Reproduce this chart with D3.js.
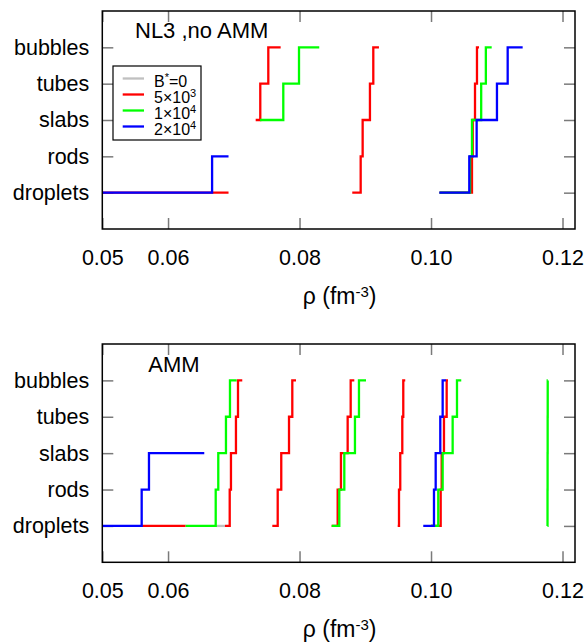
<!DOCTYPE html>
<html><head><meta charset="utf-8">
<script src="https://cdnjs.cloudflare.com/ajax/libs/d3/7.8.5/d3.min.js"></script>
<style>body{margin:0;background:#fff}svg{display:block}text{font-family:"Liberation Sans",Arial,sans-serif}</style>
</head><body>
<script>
// ---------- data ----------
const phases = ["droplets", "rods", "slabs", "tubes", "bubbles"];
const seriesNames = ["B*=0", "5×10^3", "1×10^4", "2×10^4"];
const xTicks = [0.05, 0.06, 0.08, 0.10, 0.12];
const xTickLabels = ["0.05", "0.06", "0.08", "0.10", "0.12"];
const panelLabels = ["NL3 ,no AMM", "AMM"];

// each segment: [rho, phase index 1..5] step points (step-after)
const topGray = [];
const topRed = [
  [[0.05, 1], [0.0692, 1]],
  [[0.07333, 3], [0.07403, 4], [0.07525, 5], [0.07713, 5]],
  [[0.08802, 1], [0.0893, 2], [0.0896, 3], [0.09071, 4], [0.09122, 5], [0.09208, 5]],
  [[0.1013, 1], [0.10623, 2], [0.10634, 3], [0.10669, 4], [0.10699, 5], [0.1073, 5]]
];
const topGreen = [
  [[0.07399, 3], [0.07753, 4], [0.07992, 5], [0.0830, 5]],
  [[0.1013, 1], [0.10594, 2], [0.10623, 3], [0.10763, 4], [0.10834, 5], [0.10923, 5]]
];
const topBlue = [
  [[0.05, 1], [0.0667, 2], [0.0692, 2]],
  [[0.10126, 1], [0.10582, 2], [0.10694, 3], [0.11003, 4], [0.11166, 5], [0.11394, 5]]
];

const botGray = [
  [[0.06725, 1], [0.06866, 1]]
];
const botRed = [
  [[0.05599, 1], [0.06268, 1]],
  [[0.06866, 1], [0.06938, 2], [0.06957, 3], [0.07033, 4], [0.07064, 5], [0.07129, 5]],
  [[0.07586, 1], [0.07668, 2], [0.07722, 3], [0.0784, 4], [0.0789, 5], [0.07946, 5]],
  [[0.08489, 1], [0.0858, 2], [0.0863, 3], [0.08732, 4], [0.08778, 5], [0.08833, 5]],
  [[0.09493, 1], [0.09513, 2], [0.09532, 3], [0.09563, 4], [0.09578, 5], [0.09608, 5]],
  [[0.1000, 1], [0.10147, 2], [0.10162, 3], [0.10197, 4], [0.10238, 5], [0.10258, 5]]
];
const botGreen = [
  [[0.06268, 1], [0.06725, 2], [0.06764, 3], [0.06881, 4], [0.06942, 5], [0.07044, 5]],
  [[0.08489, 1], [0.08605, 2], [0.08681, 3], [0.08843, 4], [0.08904, 5], [0.09011, 5]],
  [[0.1000, 1], [0.1011, 2], [0.10177, 3], [0.10329, 4], [0.10395, 5], [0.1046, 5]],
  [[0.11771, 1], [0.11772, 2], [0.11773, 3], [0.11774, 4], [0.11775, 5], [0.11776, 5]]
];
const botBlue = [
  [[0.05, 1], [0.05599, 2], [0.0571, 3], [0.06551, 3]],
  [[0.09882, 1], [0.10045, 2], [0.10071, 3], [0.10141, 4], [0.10177, 5], [0.10227, 5]]
];

// ---------- drawing ----------
const colors = ["#c0c0c0", "#ff0000", "#00ff00", "#0000ff"];
const W = 585, H = 643;
const svg = d3.select("body").append("svg").attr("width", W).attr("height", H);

const xLeft = 102.3, xRight = 575;
const x = d3.scaleLinear().domain([0.05, 0.1219]).range([xLeft, xRight]);

const panels = [
  { top: 11, bottom: 229, data: [topGray, topRed, topGreen, topBlue], label: panelLabels[0], lx: 135, ly: 38.3, legend: true },
  { top: 344, bottom: 562.3, data: [botGray, botRed, botGreen, botBlue], label: panelLabels[1], lx: 148.3, ly: 371.5, legend: false }
];

const FS = 21.5;
panels.forEach(p => {
  const y = d3.scaleLinear().domain([0, 6]).range([p.bottom, p.top]);
  const g = svg.append("g");

  const styleAxis = sel => {
    sel.select(".domain").remove();
    sel.selectAll(".tick line").attr("stroke", "#7a7a7a").attr("stroke-width", 1.5);
    sel.selectAll("text").attr("font-family", "Liberation Sans, Arial, sans-serif").attr("font-size", FS).attr("fill", "#000");
  };

  g.append("g").attr("transform", `translate(0,${p.bottom})`)
    .call(d3.axisBottom(x).tickValues(xTicks).tickFormat((d, i) => xTickLabels[i]).tickSize(-11).tickPadding(20.5))
    .call(styleAxis);
  g.append("g").attr("transform", `translate(0,${p.top})`)
    .call(d3.axisTop(x).tickValues(xTicks).tickFormat("").tickSize(-11))
    .call(styleAxis);
  g.append("g").attr("transform", `translate(${xLeft},0)`)
    .call(d3.axisLeft(y).tickValues([1, 2, 3, 4, 5]).tickFormat(d => phases[d - 1]).tickSize(-11).tickPadding(13))
    .call(styleAxis);
  g.append("g").attr("transform", `translate(${xRight},0)`)
    .call(d3.axisRight(y).tickValues([1, 2, 3, 4, 5]).tickFormat("").tickSize(-11))
    .call(styleAxis);

  // data lines
  const line = d3.line().x(d => x(d[0])).y(d => y(d[1])).curve(d3.curveStepAfter);
  p.data.forEach((segs, si) => {
    segs.forEach(seg => {
      g.append("path").attr("d", line(seg)).attr("fill", "none")
        .attr("stroke", colors[si]).attr("stroke-width", 2.3);
    });
  });

  // frame
  g.append("rect").attr("x", xLeft).attr("y", p.top).attr("width", xRight - xLeft).attr("height", p.bottom - p.top)
    .attr("fill", "none").attr("stroke", "#000").attr("stroke-width", 1.5);

  // panel label
  g.append("text").attr("x", p.lx).attr("y", p.ly).attr("font-size", 22).text(p.label);

  // axis title
  const t = g.append("text").attr("x", (xLeft + xRight) / 2 + 1).attr("y", p.bottom + 75)
    .attr("text-anchor", "middle").attr("font-size", 23);
  t.append("tspan").text("ρ (fm");
  t.append("tspan").attr("dy", -7).attr("font-size", 15).text("-3");
  t.append("tspan").attr("dy", 7).text(")");

  if (p.legend) {
    const lg = g.append("g");
    lg.append("rect").attr("x", 113).attr("y", 66).attr("width", 88).attr("height", 74)
      .attr("fill", "#fff").attr("stroke", "#000").attr("stroke-width", 1.2);
    seriesNames.forEach((name, i) => {
      const ly = 78.5 + i * 16;
      lg.append("line").attr("x1", 122.7).attr("x2", 144).attr("y1", ly).attr("y2", ly)
        .attr("stroke", colors[i]).attr("stroke-width", 2.3);
      const tx = lg.append("text").attr("x", 154).attr("y", ly + 8.5).attr("font-size", 16);
      if (name.startsWith("B*")) {
        tx.append("tspan").text("B");
        tx.append("tspan").attr("dy", -6).attr("font-size", 11).text("*");
        tx.append("tspan").attr("dy", 6).text(name.slice(2));
      } else {
        const [base, exp] = name.split("^");
        tx.append("tspan").text(base);
        tx.append("tspan").attr("dy", -6).attr("font-size", 11).text(exp);
      }
    });
  }
});
</script>
</body></html>
